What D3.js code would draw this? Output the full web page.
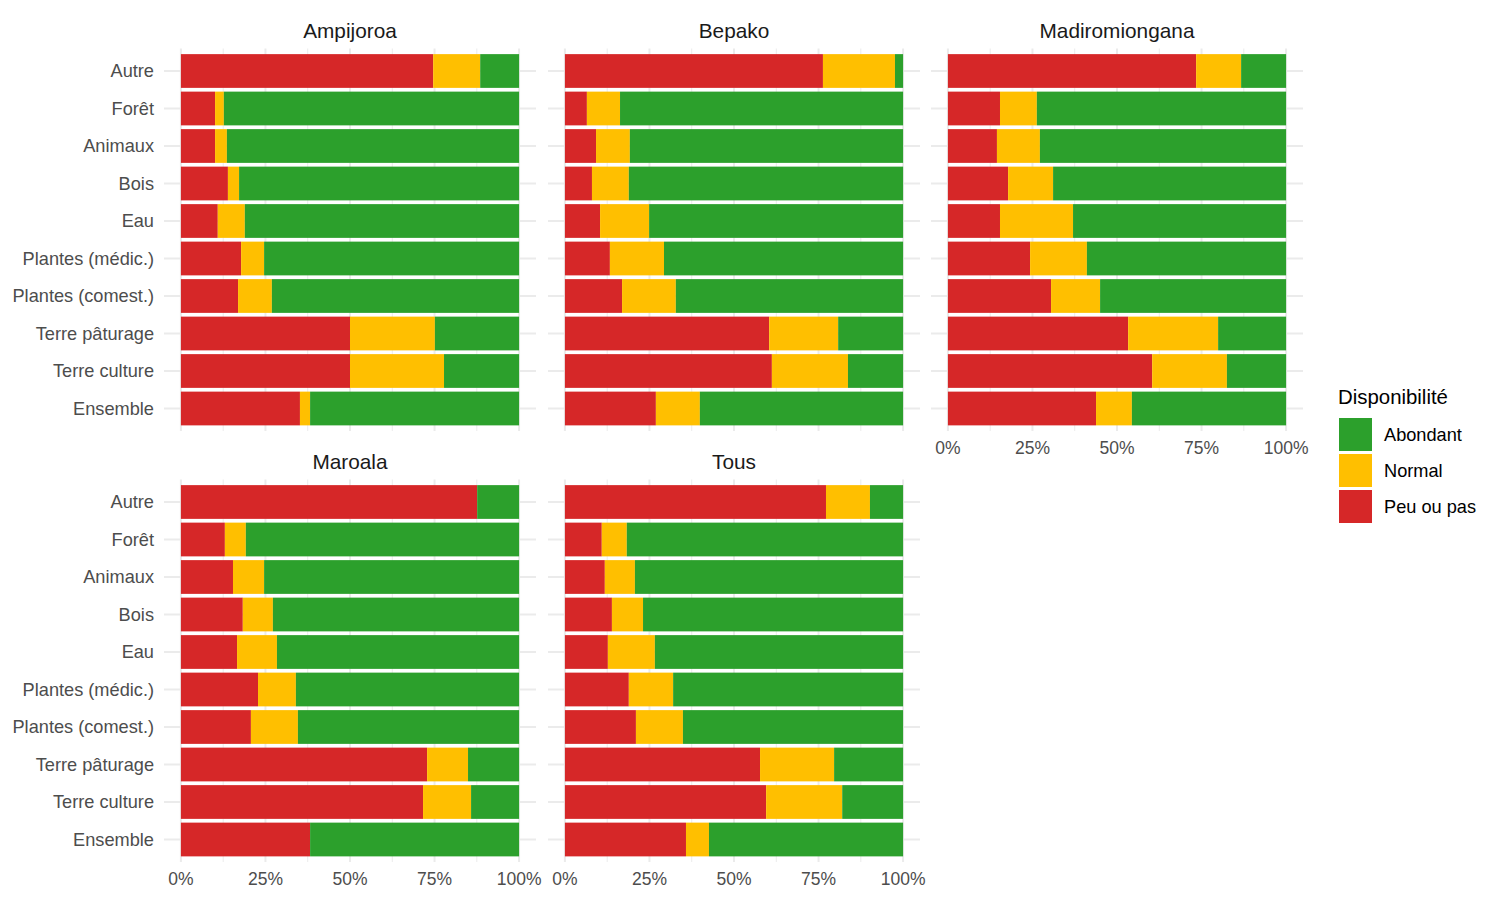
<!DOCTYPE html>
<html>
<head>
<meta charset="utf-8">
<script src="https://cdn.jsdelivr.net/npm/d3@7"></script>
<style>
  body { margin: 0; background: #fff; }
  svg { font-family: "Liberation Sans", Arial, sans-serif; }
</style>
</head>
<body>
<svg id="chart" width="1500" height="900"></svg>
<script>
// categories, top to bottom
const categories = ["Autre", "Forêt", "Animaux", "Bois", "Eau", "Plantes (médic.)",
  "Plantes (comest.)", "Terre pâturage", "Terre culture", "Ensemble"];
const panels = ["Ampijoroa", "Bepako", "Madiromiongana", "Maroala", "Tous"];
const levels = ["Peu ou pas", "Normal", "Abondant"];
const legendOrder = ["Abondant", "Normal", "Peu ou pas"];
const xTicks = [0, 25, 50, 75, 100];

// percentages per panel, same order as categories
const peuOuPas = {
  Ampijoroa:      [74.6, 10.1, 10.1, 13.9, 10.9, 17.8, 16.9, 50.0, 50.0, 35.2],
  Bepako:         [76.3, 6.5, 9.2, 8.0, 10.4, 13.3, 16.9, 60.4, 61.2, 26.9],
  Madiromiongana: [73.4, 15.4, 14.5, 17.8, 15.4, 24.3, 30.5, 53.3, 60.4, 43.8],
  Maroala:        [87.6, 13.0, 15.4, 18.3, 16.6, 22.8, 20.7, 72.8, 71.6, 38.2],
  Tous:           [77.2, 10.9, 11.8, 13.9, 12.7, 18.9, 21.0, 57.7, 59.5, 35.8]
};
const normal = {
  Ampijoroa:      [13.9, 2.6, 3.5, 3.3, 8.0, 6.8, 10.0, 25.1, 27.8, 3.0],
  Bepako:         [21.3, 9.8, 10.0, 10.9, 14.5, 16.0, 15.9, 20.4, 22.5, 13.0],
  Madiromiongana: [13.3, 10.9, 12.7, 13.3, 21.6, 16.8, 14.5, 26.6, 22.1, 10.6],
  Maroala:        [0, 6.2, 9.2, 8.9, 11.8, 11.2, 13.9, 12.1, 14.2, 0],
  Tous:           [13.0, 7.4, 8.9, 9.2, 13.9, 13.1, 13.9, 21.9, 22.5, 6.8]
};
const abondant = {
  Ampijoroa:      [11.5, 87.3, 86.4, 82.8, 81.1, 75.4, 73.1, 24.9, 22.2, 61.8],
  Bepako:         [2.4, 83.7, 80.8, 81.1, 75.1, 70.7, 67.2, 19.2, 16.3, 60.1],
  Madiromiongana: [13.3, 73.7, 72.8, 68.9, 63.0, 58.9, 55.0, 20.1, 17.5, 45.6],
  Maroala:        [12.4, 80.8, 75.4, 72.8, 71.6, 66.0, 65.4, 15.1, 14.2, 61.8],
  Tous:           [9.8, 81.7, 79.3, 76.9, 73.4, 68.0, 65.1, 20.4, 18.0, 57.4]
};

const colors = { "Peu ou pas": "#d62728", "Normal": "#ffbf00", "Abondant": "#2ca02c" };
const seriesData = { "Peu ou pas": peuOuPas, "Normal": normal, "Abondant": abondant };

const svg = d3.select("#chart");

const panelW = 372, panelH = 382.5;
const panelLeft = [164, 548, 931];
const panelTop = [48.5, 479.5];

const stack = d3.stack().keys(levels);

panels.forEach((p, i) => {
  const col = i % 3, row = Math.floor(i / 3);
  const px = panelLeft[col], py = panelTop[row];

  const x = d3.scaleLinear().domain([-5, 105]).range([px, px + panelW]);
  const y = d3.scaleBand().domain(categories).range([py, py + panelH])
    .paddingInner(0.1).paddingOuter(0.15);

  const g = svg.append("g");

  // grid: minor then major
  g.selectAll(".minor").data([12.5, 37.5, 62.5, 87.5]).enter().append("line")
    .attr("x1", d => x(d)).attr("x2", d => x(d))
    .attr("y1", py).attr("y2", py + panelH)
    .attr("stroke", "#ebebeb").attr("stroke-width", 1);
  g.selectAll(".vmajor").data(xTicks).enter().append("line")
    .attr("x1", d => x(d)).attr("x2", d => x(d))
    .attr("y1", py).attr("y2", py + panelH)
    .attr("stroke", "#ebebeb").attr("stroke-width", 2);
  g.selectAll(".hmajor").data(categories).enter().append("line")
    .attr("x1", px).attr("x2", px + panelW)
    .attr("y1", d => y(d) + y.bandwidth() / 2).attr("y2", d => y(d) + y.bandwidth() / 2)
    .attr("stroke", "#ebebeb").attr("stroke-width", 2);

  const rows = categories.map((c, k) => {
    const r = { cat: c };
    levels.forEach(l => r[l] = seriesData[l][p][k]);
    return r;
  });
  const layers = stack(rows);

  g.selectAll(".layer").data(layers).enter().append("g")
    .attr("fill", d => colors[d.key])
    .selectAll("rect").data(d => d).enter().append("rect")
    .attr("x", d => x(d[0]))
    .attr("width", d => Math.max(0, x(d[1]) - x(d[0])))
    .attr("y", d => y(d.data.cat))
    .attr("height", y.bandwidth());

  // strip title
  svg.append("text")
    .attr("x", px + panelW / 2).attr("y", py - 18.5)
    .attr("text-anchor", "middle").attr("dominant-baseline", "central")
    .attr("font-size", 20.8).attr("fill", "#1a1a1a")
    .text(p);

  // y axis on first column
  if (col === 0) {
    svg.append("g").selectAll("text").data(categories).enter().append("text")
      .attr("x", px - 10).attr("y", d => y(d) + y.bandwidth() / 2)
      .attr("text-anchor", "end").attr("dominant-baseline", "central")
      .attr("font-size", 18.2).attr("fill", "#4d4d4d")
      .text(d => d);
  }

  // x axis on bottom-most panel of each column
  if (row === 1 || col === 2) {
    svg.append("g").selectAll("text").data(xTicks).enter().append("text")
      .attr("x", d => x(d)).attr("y", py + panelH + 17)
      .attr("text-anchor", "middle").attr("dominant-baseline", "central")
      .attr("font-size", 17.5).attr("fill", "#4d4d4d")
      .text(d => d + "%");
  }
});

// legend
const lg = svg.append("g");
lg.append("text").attr("x", 1338).attr("y", 397)
  .attr("dominant-baseline", "central")
  .attr("font-size", 20.4).attr("fill", "#000").text("Disponibilité");
legendOrder.forEach((l, k) => {
  const ky = 418 + k * 36;
  lg.append("rect").attr("x", 1339).attr("y", ky).attr("width", 33).attr("height", 33)
    .attr("fill", colors[l]);
  lg.append("text").attr("x", 1384).attr("y", ky + 16.5)
    .attr("dominant-baseline", "central")
    .attr("font-size", 18.2).attr("fill", "#000").text(l);
});
</script>
</body>
</html>
